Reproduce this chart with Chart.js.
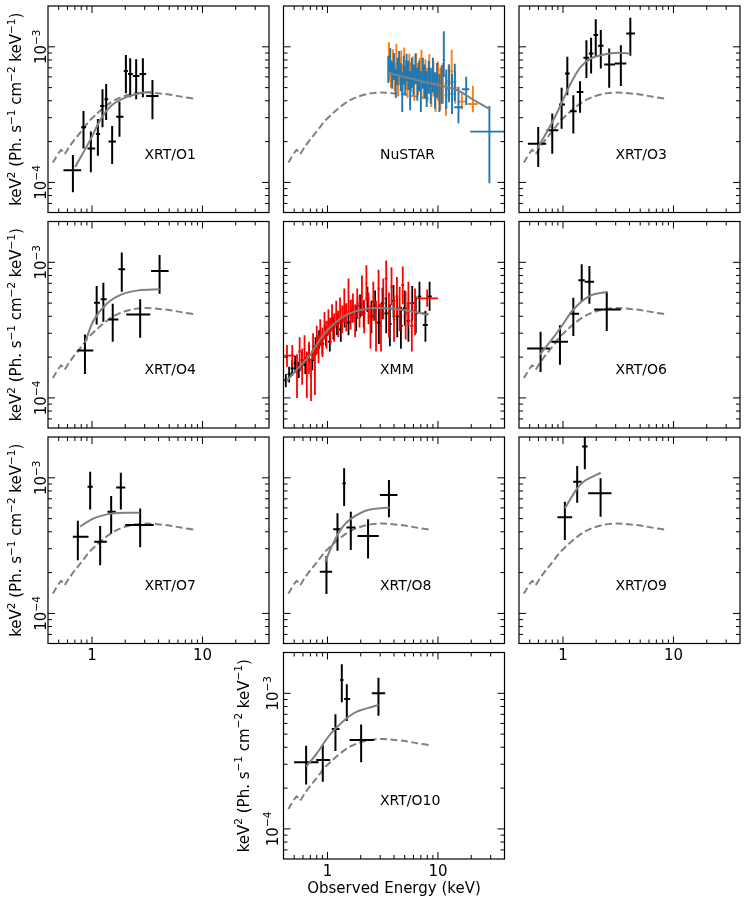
<!DOCTYPE html>
<html><head><meta charset="utf-8">
<script src="https://cdn.jsdelivr.net/npm/chart.js@4.4.1/dist/chart.umd.min.js"></script>
<style>
html,body{margin:0;padding:0;background:#fff;}
#wrap{position:relative;width:747px;height:905px;overflow:hidden;}
canvas{position:absolute;left:0;top:0;}
</style></head><body><div id="wrap"></div>
<script>
// ---------------- tick values / labels ----------------
const xMajorTicks = [1, 10];
const xMajorLabels = ['1', '10'];
const xMinorTicks = [0.5,0.6,0.7,0.8,0.9,2,3,4,5,6,7,8,9,20,30];
const yMajorTicks = [1e-4, 1e-3];
const yMajorExp = ['\u22124', '\u22123'];
const yMinorTicks = [7e-5,8e-5,9e-5,2e-4,3e-4,4e-4,5e-4,6e-4,7e-4,8e-4,9e-4];
const xTitle = 'Observed Energy (keV)';

// ---------------- shared reference model (dashed) ----------------
const refModelE = [0.442,0.47,0.50,0.527,0.545,0.565,0.62,0.70,0.80,0.95,1.1,1.3,1.55,1.9,2.4,3.1,3.9,5.0,6.5,8.6];
const refModelF = [1.40e-4,1.52e-4,1.65e-4,1.74e-4,1.68e-4,1.62e-4,1.82e-4,2.08e-4,2.38e-4,2.85e-4,3.2e-4,3.6e-4,3.98e-4,4.3e-4,4.52e-4,4.6e-4,4.55e-4,4.45e-4,4.28e-4,4.13e-4];

// ---------------- XRT/O1 ----------------
const o1E   = [0.672,0.838,0.977,1.131,1.245,1.344,1.523,1.774,2.027,2.217,2.512,2.888,3.527];
const o1Elo = [0.552,0.798,0.911,1.085,1.186,1.298,1.41,1.656,1.94,2.12,2.345,2.69,3.094];
const o1Ehi = [0.798,0.886,1.069,1.186,1.298,1.401,1.646,1.928,2.113,2.345,2.69,3.094,4.0];
const o1F   = [1.23e-4,2.55e-4,1.78e-4,2.275e-4,3.66e-4,4.10e-4,2.0e-4,3.05e-4,6.63e-4,6.30e-4,6.09e-4,6.30e-4,4.34e-4];
const o1Flo = [8.45e-5,1.78e-4,1.187e-4,1.574e-4,2.55e-4,2.885e-4,1.367e-4,2.17e-4,4.54e-4,4.24e-4,4.10e-4,4.24e-4,2.92e-4];
const o1Fhi = [1.59e-4,3.36e-4,2.37e-4,2.94e-4,4.86e-4,5.32e-4,2.61e-4,3.94e-4,8.70e-4,8.23e-4,8.09e-4,8.23e-4,5.69e-4];
const o1ModelE = [0.705,0.963,1.186,1.461,1.928,2.73,3.48];
const o1ModelF = [1.30e-4,2.05e-4,2.88e-4,3.62e-4,4.17e-4,4.54e-4,4.67e-4];

// ---------------- NuSTAR ----------------
const nuOrangeE = [3.6,3.75,3.9,4.05,4.2,4.35,4.5,4.65,4.8,4.95,5.1,5.3,5.5,5.7,5.9,6.1,6.35,6.6,6.85,7.1,7.4,7.7,8.0,8.35,8.7,9.1,9.5,10.0,10.5,11.1,11.8,12.5,13.3,14.3];
const nuOrangeF = [7.2e-4,6.4e-4,7.6e-4,6.0e-4,7.0e-4,5.6e-4,6.6e-4,7.4e-4,5.8e-4,6.8e-4,6.2e-4,5.4e-4,7.0e-4,6.0e-4,6.6e-4,5.2e-4,6.9e-4,5.8e-4,6.3e-4,7.2e-4,5.5e-4,6.1e-4,5.2e-4,6.6e-4,5.0e-4,5.8e-4,4.6e-4,5.6e-4,4.9e-4,5.4e-4,4.4e-4,5.6e-4,6.6e-4,5.0e-4];
const nuOrangeFlo = [5.6e-4,5.0e-4,6.0e-4,4.7e-4,5.5e-4,4.3e-4,5.2e-4,5.8e-4,4.5e-4,5.3e-4,4.8e-4,4.2e-4,5.5e-4,4.6e-4,5.1e-4,4.0e-4,5.3e-4,4.4e-4,4.8e-4,5.5e-4,4.1e-4,4.6e-4,3.9e-4,5.0e-4,3.6e-4,4.3e-4,3.3e-4,4.0e-4,3.4e-4,3.8e-4,3.1e-4,4.2e-4,5.2e-4,3.8e-4];
const nuOrangeFhi = [1.08e-3,8.0e-4,9.6e-4,7.6e-4,1.05e-3,7.2e-4,8.4e-4,9.4e-4,7.4e-4,9.9e-4,8.0e-4,7.0e-4,8.9e-4,7.7e-4,8.5e-4,6.8e-4,9.0e-4,7.6e-4,8.3e-4,9.5e-4,7.3e-4,8.1e-4,7.0e-4,8.8e-4,6.8e-4,7.8e-4,6.4e-4,7.8e-4,7.0e-4,7.6e-4,6.3e-4,7.4e-4,9.5e-4,6.6e-4];
const nuOrangeWideE   = [16.45, 20.7];
const nuOrangeWideElo = [15.0, 18.5];
const nuOrangeWideEhi = [18.0, 22.8];
const nuOrangeWideF   = [3.94e-4, 3.79e-4];
const nuOrangeWideFlo = [3.45e-4, 3.29e-4];
const nuOrangeWideFhi = [4.6e-4, 5.17e-4];

const nuBlueE = [3.55,3.7,3.85,4.0,4.15,4.3,4.45,4.6,4.75,4.9,5.05,5.2,5.4,5.6,5.8,6.0,6.25,6.5,6.75,7.0,7.3,7.6,7.9,8.25,8.6,9.0,9.4,9.8,10.3,10.8,11.3,11.9,12.6,13.4,14.2];
const nuBlueF = [6.8e-4,7.8e-4,6.2e-4,7.2e-4,5.4e-4,6.6e-4,7.5e-4,6.0e-4,5.0e-4,6.8e-4,5.6e-4,7.1e-4,6.2e-4,5.1e-4,6.5e-4,5.7e-4,6.9e-4,5.3e-4,6.1e-4,5.0e-4,6.4e-4,5.6e-4,4.9e-4,6.0e-4,5.2e-4,6.2e-4,4.8e-4,5.7e-4,4.6e-4,5.3e-4,8.0e-4,4.9e-4,5.4e-4,4.5e-4,5.5e-4];
const nuBlueFlo = [5.4e-4,6.2e-4,4.9e-4,5.7e-4,4.2e-4,5.2e-4,6.0e-4,4.7e-4,3.3e-4,5.3e-4,4.4e-4,5.6e-4,4.8e-4,3.4e-4,5.0e-4,4.4e-4,5.3e-4,4.0e-4,4.7e-4,3.3e-4,4.9e-4,4.2e-4,3.6e-4,4.5e-4,3.8e-4,4.6e-4,3.5e-4,4.2e-4,3.3e-4,3.8e-4,6.0e-4,3.5e-4,3.9e-4,3.2e-4,4.0e-4];
const nuBlueFhi = [8.6e-4,9.8e-4,7.8e-4,9.0e-4,6.9e-4,8.3e-4,9.3e-4,7.6e-4,6.5e-4,8.6e-4,7.2e-4,8.9e-4,7.9e-4,6.6e-4,8.3e-4,7.4e-4,8.9e-4,7.0e-4,7.9e-4,6.6e-4,8.3e-4,7.4e-4,6.6e-4,7.9e-4,7.0e-4,8.3e-4,6.5e-4,7.6e-4,6.3e-4,7.3e-4,1.3e-3,6.8e-4,7.4e-4,6.3e-4,7.5e-4];
const nuBlueWideE   = [15.33, 18.0, 29.2];
const nuBlueWideElo = [14.0, 16.45, 19.6];
const nuBlueWideEhi = [16.8, 19.2, 40.0];
const nuBlueWideF   = [3.58e-4, 4.86e-4, 2.37e-4];
const nuBlueWideFlo = [2.73e-4, 3.73e-4, 9.85e-5];
const nuBlueWideFhi = [5.08e-4, 6.02e-4, 3.66e-4];
const nuModelE = [3.49, 7.4, 14.8, 20.9, 29.7];
const nuModelF = [6.44e-4, 5.53e-4, 4.80e-4, 4.07e-4, 3.46e-4];

// ---------------- XRT/O3 ----------------
const o3E   = [0.597,0.80,0.972,1.095,1.241,1.427,1.63,1.797,1.98,2.20,2.62,3.34,4.07];
const o3Elo = [0.481,0.710,0.920,1.043,1.158,1.331,1.53,1.711,1.887,2.08,2.36,2.95,3.74];
const o3Ehi = [0.706,0.907,1.043,1.15,1.331,1.53,1.723,1.887,2.08,2.33,2.95,3.74,4.48];
const o3F   = [1.93e-4,2.42e-4,3.75e-4,6.35e-4,3.35e-4,4.65e-4,8.29e-4,8.93e-4,1.22e-3,1.017e-3,7.40e-4,7.53e-4,1.254e-3];
const o3Flo = [1.30e-4,1.63e-4,2.49e-4,4.39e-4,2.29e-4,3.27e-4,5.90e-4,6.35e-4,8.44e-4,6.92e-4,4.98e-4,5.15e-4,8.58e-4];
const o3Fhi = [2.56e-4,3.22e-4,4.98e-4,8.44e-4,4.39e-4,5.57e-4,1.12e-3,1.166e-3,1.60e-3,1.33e-3,9.72e-4,1.029e-3,1.64e-3];
const o3ModelE = [0.584,0.773,0.952,1.174,1.447,1.784,2.36,3.12,4.07];
const o3ModelF = [1.77e-4,2.64e-4,3.71e-4,5.36e-4,7.11e-4,8.20e-4,8.78e-4,9.03e-4,8.93e-4];

// ---------------- XRT/O4 ----------------
const o4E   = [0.864,1.103,1.268,1.541,1.861,2.73,4.09];
const o4Elo = [0.736,1.043,1.199,1.408,1.735,2.04,3.42];
const o4Ehi = [1.028,1.182,1.359,1.735,1.995,3.37,4.94];
const o4F   = [2.24e-4,5.04e-4,5.33e-4,3.79e-4,8.88e-4,4.13e-4,8.63e-4];
const o4Flo = [1.50e-4,3.48e-4,3.64e-4,2.59e-4,6.07e-4,2.78e-4,5.87e-4];
const o4Fhi = [2.94e-4,6.69e-4,7.08e-4,4.95e-4,1.179e-3,5.33e-4,1.133e-3];
const o4ModelE = [0.864,1.028,1.359,1.861,2.64,4.09];
const o4ModelF = [2.55e-4,3.69e-4,4.95e-4,5.80e-4,6.21e-4,6.32e-4];

// ---------------- XMM ----------------
const xmmRedE = [0.43,0.48,0.53,0.56,0.59,0.62,0.65,0.68,0.71,0.74,0.77,0.80,0.83,0.86,0.90,0.94,0.98,1.02,1.06,1.10,1.15,1.20,1.25,1.30,1.36,1.42,1.48,1.55,1.62,1.70,1.78,1.86,1.95,2.05,2.15,2.25,2.35,2.45,2.6,2.75,2.9,3.05,3.2,3.4,3.6,3.8,4.0,4.25,4.5,4.8,5.1,5.4,5.8,6.2];
const xmmRedF = [2.05e-4,2.05e-4,1.55e-4,2.2e-4,1.75e-4,2.3e-4,1.6e-4,2.0e-4,1.45e-4,2.4e-4,1.7e-4,2.7e-4,2.3e-4,3.0e-4,2.6e-4,3.4e-4,2.9e-4,3.6e-4,3.1e-4,3.9e-4,3.3e-4,4.2e-4,3.5e-4,4.4e-4,3.8e-4,4.8e-4,3.9e-4,5.6e-4,4.1e-4,4.6e-4,3.7e-4,5.0e-4,4.3e-4,5.6e-4,4.0e-4,7.0e-4,4.6e-4,3.4e-4,5.2e-4,3.6e-4,6.4e-4,3.4e-4,5.4e-4,7.6e-4,4.2e-4,6.6e-4,3.8e-4,5.6e-4,4.6e-4,6.8e-4,4.2e-4,5.0e-4,3.4e-4,4.4e-4];
const xmmRedFlo = [1.70e-4,1.70e-4,1.0e-4,1.6e-4,1.25e-4,1.8e-4,1.0e-4,1.5e-4,0.95e-4,1.9e-4,1.05e-4,2.1e-4,1.8e-4,2.4e-4,2.0e-4,2.7e-4,2.3e-4,2.9e-4,2.5e-4,3.1e-4,2.6e-4,3.4e-4,2.8e-4,3.5e-4,3.0e-4,3.6e-4,3.1e-4,4.2e-4,3.2e-4,3.6e-4,2.8e-4,3.9e-4,3.3e-4,4.0e-4,3.0e-4,5.2e-4,3.5e-4,2.3e-4,3.7e-4,2.2e-4,4.6e-4,2.2e-4,3.8e-4,5.6e-4,2.8e-4,4.8e-4,2.6e-4,4.0e-4,3.1e-4,4.9e-4,2.7e-4,3.4e-4,2.2e-4,2.9e-4];
const xmmRedFhi = [2.46e-4,2.46e-4,2.1e-4,2.8e-4,2.3e-4,2.9e-4,2.2e-4,2.6e-4,1.95e-4,3.0e-4,2.3e-4,3.4e-4,2.9e-4,3.8e-4,3.3e-4,4.3e-4,3.7e-4,4.5e-4,3.9e-4,4.9e-4,4.2e-4,5.2e-4,4.4e-4,5.5e-4,4.8e-4,6.4e-4,5.0e-4,7.6e-4,5.3e-4,5.9e-4,4.9e-4,6.4e-4,5.6e-4,8.0e-4,5.3e-4,9.5e-4,6.0e-4,4.8e-4,7.2e-4,5.2e-4,8.8e-4,5.0e-4,7.6e-4,1.03e-3,6.0e-4,9.2e-4,5.6e-4,7.8e-4,6.6e-4,9.3e-4,6.1e-4,7.2e-4,5.1e-4,6.4e-4];
const xmmRedWideE   = [7.98];
const xmmRedWideElo = [6.4];
const xmmRedWideEhi = [10.0];
const xmmRedWideF   = [5.43e-4];
const xmmRedWideFlo = [4.7e-4];
const xmmRedWideFhi = [6.3e-4];

const xmmBlackE = [0.42,0.45,0.48,0.51,0.55,0.59,0.63,0.68,0.73,0.78,0.84,0.90,0.97,1.05,1.13,1.22,1.32,1.43,1.55,1.68,1.82,1.97,2.13,2.3,2.5,2.7,2.92,3.15,3.4,3.67,3.96,4.28,4.62,5.0,5.4,5.85,6.3,6.8];
const xmmBlackF = [1.35e-4,1.5e-4,1.65e-4,1.8e-4,1.6e-4,1.9e-4,1.75e-4,2.1e-4,1.9e-4,2.4e-4,2.7e-4,2.5e-4,2.9e-4,2.6e-4,3.3e-4,3.5e-4,3.2e-4,4.0e-4,3.6e-4,4.4e-4,3.9e-4,4.8e-4,4.2e-4,5.4e-4,4.0e-4,4.8e-4,3.6e-4,5.0e-4,4.2e-4,3.5e-4,5.2e-4,4.0e-4,3.4e-4,4.6e-4,3.7e-4,5.0e-4,4.2e-4,5.6e-4];
const xmmBlackFlo = [1.2e-4,1.3e-4,1.45e-4,1.55e-4,1.4e-4,1.65e-4,1.5e-4,1.8e-4,1.6e-4,2.05e-4,2.3e-4,2.1e-4,2.4e-4,2.2e-4,2.7e-4,2.9e-4,2.6e-4,3.3e-4,2.9e-4,3.6e-4,3.1e-4,3.9e-4,3.3e-4,4.3e-4,3.0e-4,3.7e-4,2.5e-4,3.8e-4,3.0e-4,2.4e-4,3.9e-4,2.8e-4,2.3e-4,3.4e-4,2.6e-4,3.7e-4,3.0e-4,4.2e-4];
const xmmBlackFhi = [1.5e-4,1.7e-4,1.9e-4,2.05e-4,1.85e-4,2.2e-4,2.0e-4,2.45e-4,2.25e-4,2.8e-4,3.15e-4,2.95e-4,3.4e-4,3.1e-4,3.9e-4,4.2e-4,3.9e-4,4.8e-4,4.4e-4,5.3e-4,4.8e-4,5.8e-4,5.2e-4,6.6e-4,5.2e-4,6.2e-4,4.9e-4,6.5e-4,5.6e-4,4.9e-4,6.8e-4,5.5e-4,4.7e-4,6.2e-4,5.0e-4,6.7e-4,5.6e-4,7.2e-4];
const xmmBlackWideE   = [7.7, 8.4];
const xmmBlackWideElo = [7.3, 8.1];
const xmmBlackWideEhi = [8.1, 8.8];
const xmmBlackWideF   = [3.45e-4, 5.6e-4];
const xmmBlackWideFlo = [2.6e-4, 4.4e-4];
const xmmBlackWideFhi = [4.4e-4, 7.2e-4];
const xmmModelE = [0.426,0.524,0.693,0.914,1.206,1.595,2.42,3.42,4.84,6.39,8.15];
const xmmModelF = [1.333e-4,1.607e-4,2.07e-4,2.91e-4,3.65e-4,4.21e-4,4.58e-4,4.58e-4,4.45e-4,4.28e-4,4.09e-4];

// ---------------- XRT/O6 ----------------
const o6E   = [0.627,0.939,1.241,1.478,1.735,2.49];
const o6Elo = [0.474,0.783,1.134,1.379,1.574,1.913];
const o6Ehi = [0.762,1.11,1.398,1.574,1.913,3.34];
const o6F   = [2.31e-4,2.59e-4,4.18e-4,7.36e-4,7.20e-4,4.49e-4];
const o6Flo = [1.556e-4,1.76e-4,2.86e-4,5.12e-4,4.95e-4,3.11e-4];
const o6Fhi = [3.07e-4,3.44e-4,5.48e-4,9.66e-4,9.39e-4,6.07e-4];
const o6ModelE = [0.618,0.773,0.952,1.241,1.735,2.53];
const o6ModelF = [2.09e-4,2.62e-4,3.29e-4,4.49e-4,5.64e-4,6.07e-4];

// ---------------- XRT/O7 ----------------
const o7E   = [0.745,0.963,1.186,1.492,1.825,2.73];
const o7Elo = [0.671,0.911,1.047,1.382,1.656,2.0];
const o7Ehi = [0.930,1.018,1.363,1.644,2.0,3.62];
const o7F   = [3.68e-4,8.60e-4,3.38e-4,5.63e-4,8.50e-4,4.48e-4];
const o7Flo = [2.47e-4,5.85e-4,2.27e-4,3.89e-4,5.85e-4,3.07e-4];
const o7Fhi = [4.83e-4,1.11e-3,4.41e-4,7.34e-4,1.091e-3,5.95e-4];
const o7ModelE = [0.782,0.963,1.186,1.566,2.07,2.69];
const o7ModelF = [4.36e-4,4.88e-4,5.22e-4,5.47e-4,5.53e-4,5.53e-4];

// ---------------- XRT/O8 ----------------
const o8E   = [0.979,1.232,1.415,1.626,2.33,3.60];
const o8Elo = [0.852,1.126,1.367,1.486,1.869,2.98];
const o8Ehi = [1.102,1.339,1.465,1.792,2.91,4.30];
const o8F   = [2.03e-4,4.17e-4,9.10e-4,4.31e-4,3.72e-4,7.46e-4];
const o8Flo = [1.389e-4,2.90e-4,6.19e-4,2.93e-4,2.54e-4,5.11e-4];
const o8Fhi = [2.65e-4,5.47e-4,1.174e-3,5.63e-4,4.94e-4,9.63e-4];
const o8ModelE = [0.959,1.087,1.339,1.649,2.33,3.66];
const o8ModelF = [2.41e-4,3.10e-4,4.24e-4,5.02e-4,5.79e-4,6.05e-4];

// ---------------- XRT/O9 ----------------
const o9E   = [1.04,1.345,1.577,2.19];
const o9Elo = [0.892,1.237,1.492,1.69];
const o9Ehi = [1.211,1.471,1.667,2.75];
const o9F   = [5.11e-4,9.37e-4,1.70e-3,7.68e-4];
const o9Flo = [3.48e-4,6.55e-4,1.155e-3,5.17e-4];
const o9Fhi = [6.67e-4,1.222e-3,2.3e-3,9.91e-4];
const o9ModelE = [1.04,1.345,1.577,2.20];
const o9ModelF = [5.95e-4,8.36e-4,9.52e-4,1.09e-3];

// ---------------- XRT/O10 ----------------
const o10E   = [0.641,0.907,1.181,1.348,1.496,2.017,2.894];
const o10Elo = [0.499,0.790,1.094,1.302,1.415,1.582,2.52];
const o10Ehi = [0.829,1.057,1.284,1.396,1.604,2.644,3.325];
const o10F   = [3.10e-4,3.22e-4,5.46e-4,1.254e-3,9.08e-4,4.52e-4,1.0e-3];
const o10Flo = [2.13e-4,2.23e-4,3.75e-4,8.58e-4,6.25e-4,3.10e-4,6.84e-4];
const o10Fhi = [4.11e-4,4.16e-4,7.00e-4,1.64e-3,1.165e-3,5.90e-4,1.305e-3];
const o10ModelE = [0.641,0.801,1.057,1.396,1.843,2.894];
const o10ModelF = [2.88e-4,3.61e-4,4.98e-4,6.25e-4,7.32e-4,8.20e-4];

// ---------------- layout ----------------
const W = 747, H = 905;
const colLeft = [48, 283.5, 519];
const rowTop = [6, 221.5, 437, 652.5];
const PW = 221, PH = 206.5;
const FONT = '"DejaVu Sans", "Noto Sans", sans-serif';
const GREY = '#808080';

function errPts(E, Elo, Ehi, F, Flo, Fhi) {
  const pts = [];
  for (let i = 0; i < E.length; i++) {
    pts.push({x: Elo[i], y: F[i]}, {x: Ehi[i], y: F[i]}, {x: E[i], y: null},
             {x: E[i], y: Flo[i]}, {x: E[i], y: Fhi[i]}, {x: E[i], y: null});
  }
  return pts;
}
// contiguous bins: horizontal extent reaches halfway (in log) to the neighbouring bins
function densePts(E, F, Flo, Fhi) {
  const lo = [], hi = [];
  for (let i = 0; i < E.length; i++) {
    const prev = i > 0 ? E[i-1] : E[i] * E[i] / E[i+1];
    const next = i < E.length - 1 ? E[i+1] : E[i] * E[i] / E[i-1];
    lo.push(Math.sqrt(prev * E[i])); hi.push(Math.sqrt(next * E[i]));
  }
  return errPts(E, lo, hi, F, Flo, Fhi);
}
function linePts(E, F) { return E.map((e, i) => ({x: e, y: F[i]})); }

function errDs(data, color, width, order) {
  return {data, showLine: true, borderColor: color, borderWidth: width, pointRadius: 0,
          pointHoverRadius: 0, spanGaps: false, tension: 0, order, borderCapStyle: 'butt'};
}
function modelDs(E, F) { return {data: linePts(E, F), showLine: true, borderColor: GREY, borderWidth: 2, pointRadius: 0, tension: 0.3, order: 0}; }
function refDs() { return {data: linePts(refModelE, refModelF), showLine: true, borderColor: GREY, borderWidth: 2, borderDash: [7, 3.5], pointRadius: 0, tension: 0.2, order: 9}; }

function xrtSets(E, Elo, Ehi, F, Flo, Fhi, mE, mF) {
  return [modelDs(mE, mF), errDs(errPts(E, Elo, Ehi, F, Flo, Fhi), '#000', 2, 2), refDs()];
}

const panels = [
  {label: 'XRT/O1', col: 0, row: 0, yLab: true, xLab: false, sets: xrtSets(o1E,o1Elo,o1Ehi,o1F,o1Flo,o1Fhi,o1ModelE,o1ModelF)},
  {label: 'NuSTAR', col: 1, row: 0, yLab: false, xLab: false, sets: [
     modelDs(nuModelE, nuModelF),
     errDs(densePts(nuBlueE, nuBlueF, nuBlueFlo, nuBlueFhi), '#1f77b4', 1.9, 2),
     errDs(errPts(nuBlueWideE, nuBlueWideElo, nuBlueWideEhi, nuBlueWideF, nuBlueWideFlo, nuBlueWideFhi), '#1f77b4', 1.9, 2),
     errDs(densePts(nuOrangeE, nuOrangeF, nuOrangeFlo, nuOrangeFhi), '#ff7f0e', 1.9, 3),
     errDs(errPts(nuOrangeWideE, nuOrangeWideElo, nuOrangeWideEhi, nuOrangeWideF, nuOrangeWideFlo, nuOrangeWideFhi), '#ff7f0e', 1.9, 3),
     refDs()]},
  {label: 'XRT/O3', col: 2, row: 0, yLab: false, xLab: false, sets: xrtSets(o3E,o3Elo,o3Ehi,o3F,o3Flo,o3Fhi,o3ModelE,o3ModelF)},
  {label: 'XRT/O4', col: 0, row: 1, yLab: true, xLab: false, sets: xrtSets(o4E,o4Elo,o4Ehi,o4F,o4Flo,o4Fhi,o4ModelE,o4ModelF)},
  {label: 'XMM', col: 1, row: 1, yLab: false, xLab: false, sets: [
     modelDs(xmmModelE, xmmModelF),
     errDs(densePts(xmmRedE, xmmRedF, xmmRedFlo, xmmRedFhi), '#ff0000', 1.8, 2),
     errDs(errPts(xmmRedWideE, xmmRedWideElo, xmmRedWideEhi, xmmRedWideF, xmmRedWideFlo, xmmRedWideFhi), '#ff0000', 1.8, 2),
     errDs(densePts(xmmBlackE, xmmBlackF, xmmBlackFlo, xmmBlackFhi), '#000', 1.8, 3),
     errDs(errPts(xmmBlackWideE, xmmBlackWideElo, xmmBlackWideEhi, xmmBlackWideF, xmmBlackWideFlo, xmmBlackWideFhi), '#000', 1.8, 3),
     refDs()]},
  {label: 'XRT/O6', col: 2, row: 1, yLab: false, xLab: false, sets: xrtSets(o6E,o6Elo,o6Ehi,o6F,o6Flo,o6Fhi,o6ModelE,o6ModelF)},
  {label: 'XRT/O7', col: 0, row: 2, yLab: true, xLab: true, sets: xrtSets(o7E,o7Elo,o7Ehi,o7F,o7Flo,o7Fhi,o7ModelE,o7ModelF)},
  {label: 'XRT/O8', col: 1, row: 2, yLab: false, xLab: false, sets: xrtSets(o8E,o8Elo,o8Ehi,o8F,o8Flo,o8Fhi,o8ModelE,o8ModelF)},
  {label: 'XRT/O9', col: 2, row: 2, yLab: false, xLab: true, sets: xrtSets(o9E,o9Elo,o9Ehi,o9F,o9Flo,o9Fhi,o9ModelE,o9ModelF)},
  {label: 'XRT/O10', col: 1, row: 3, yLab: true, xLab: true, xTitle: true, labGap: 6, titleOff: 40,
     sets: xrtSets(o10E,o10Elo,o10Ehi,o10F,o10Flo,o10Fhi,o10ModelE,o10ModelF)}
];

const yTitleSegs = [['keV', 0], ['2', 1], [' (Ph. s', 0], ['\u22121', 1], [' cm', 0], ['\u22122', 1], [' keV', 0], ['\u22121', 1], [')', 0]];

function drawRich(ctx, segs, x, y, rot, size, dy) {
  const supSize = size * 0.7, raise = size * 0.42;
  ctx.save();
  ctx.translate(x, y); ctx.rotate(rot);
  ctx.textAlign = 'left'; ctx.textBaseline = 'alphabetic'; ctx.fillStyle = '#000';
  const ws = []; let total = 0;
  for (const s of segs) { ctx.font = (s[1] ? supSize : size) + 'px ' + FONT; const w = ctx.measureText(s[0]).width; ws.push(w); total += w; }
  let cx = -total / 2;
  segs.forEach((s, i) => { ctx.font = (s[1] ? supSize : size) + 'px ' + FONT; ctx.fillText(s[0], cx, dy - (s[1] ? raise : 0)); cx += ws[i]; });
  ctx.restore();
}

function makeAxesPlugin(p) {
  return {
    id: 'panelAxes',
    afterDraw(chart) {
      const ctx = chart.ctx, a = chart.chartArea, xs = chart.scales.x, ys = chart.scales.y;
      ctx.save();
      ctx.strokeStyle = '#000';
      ctx.lineWidth = 1;
      const seg = (x1, y1, x2, y2) => { ctx.beginPath(); ctx.moveTo(x1, y1); ctx.lineTo(x2, y2); ctx.stroke(); };
      const MAJ = 7, MIN = 4;
      xMajorTicks.forEach(v => { const px = xs.getPixelForValue(v); seg(px, a.bottom, px, a.bottom - MAJ); seg(px, a.top, px, a.top + MAJ); });
      xMinorTicks.forEach(v => { const px = xs.getPixelForValue(v); seg(px, a.bottom, px, a.bottom - MIN); seg(px, a.top, px, a.top + MIN); });
      yMajorTicks.forEach(v => { const py = ys.getPixelForValue(v); seg(a.left, py, a.left + MAJ, py); seg(a.right, py, a.right - MAJ, py); });
      yMinorTicks.forEach(v => { const py = ys.getPixelForValue(v); seg(a.left, py, a.left + MIN, py); seg(a.right, py, a.right - MIN, py); });
      ctx.lineWidth = 1.2;
      ctx.strokeRect(a.left, a.top, a.right - a.left, a.bottom - a.top);
      ctx.fillStyle = '#000';
      ctx.font = '14px ' + FONT; ctx.textAlign = 'left'; ctx.textBaseline = 'alphabetic';
      ctx.fillText(p.label, a.left + 96.5, a.top + 152.7);
      if (p.xLab) {
        ctx.font = '15px ' + FONT; ctx.textAlign = 'center';
        xMajorTicks.forEach((v, i) => ctx.fillText(xMajorLabels[i], xs.getPixelForValue(v), a.bottom + 16.5));
      }
      if (p.xTitle) {
        ctx.font = '15px ' + FONT; ctx.textAlign = 'center';
        ctx.fillText(xTitle, (a.left + a.right) / 2, a.bottom + 34);
      }
      if (p.yLab) {
        const gap = p.labGap || 2;
        yMajorTicks.forEach((v, i) => {
          drawRich(ctx, [['10', 0], [yMajorExp[i], 1]], a.left - gap, ys.getPixelForValue(v), -Math.PI / 2, 15, 0);
        });
        drawRich(ctx, yTitleSegs, a.left - (p.titleOff || 32), (a.top + a.bottom) / 2, -Math.PI / 2, 15, 5);
      }
      ctx.restore();
    }
  };
}

const wrap = document.getElementById('wrap');
panels.forEach(p => {
  const cv = document.createElement('canvas');
  cv.width = W; cv.height = H; cv.style.width = W + 'px'; cv.style.height = H + 'px';
  wrap.appendChild(cv);
  const L = colLeft[p.col], T = rowTop[p.row];
  new Chart(cv, {
    type: 'scatter',
    data: {datasets: p.sets},
    options: {
      responsive: false, animation: false, events: [],
      layout: {padding: {left: L, top: T, right: W - L - PW, bottom: H - T - PH}},
      scales: {
        x: {type: 'logarithmic', min: 0.4, max: 40, display: false},
        y: {type: 'logarithmic', min: 6e-5, max: 2e-3, display: false}
      },
      plugins: {legend: {display: false}, tooltip: {enabled: false}}
    },
    plugins: [makeAxesPlugin(p)]
  });
});
</script></body></html>
